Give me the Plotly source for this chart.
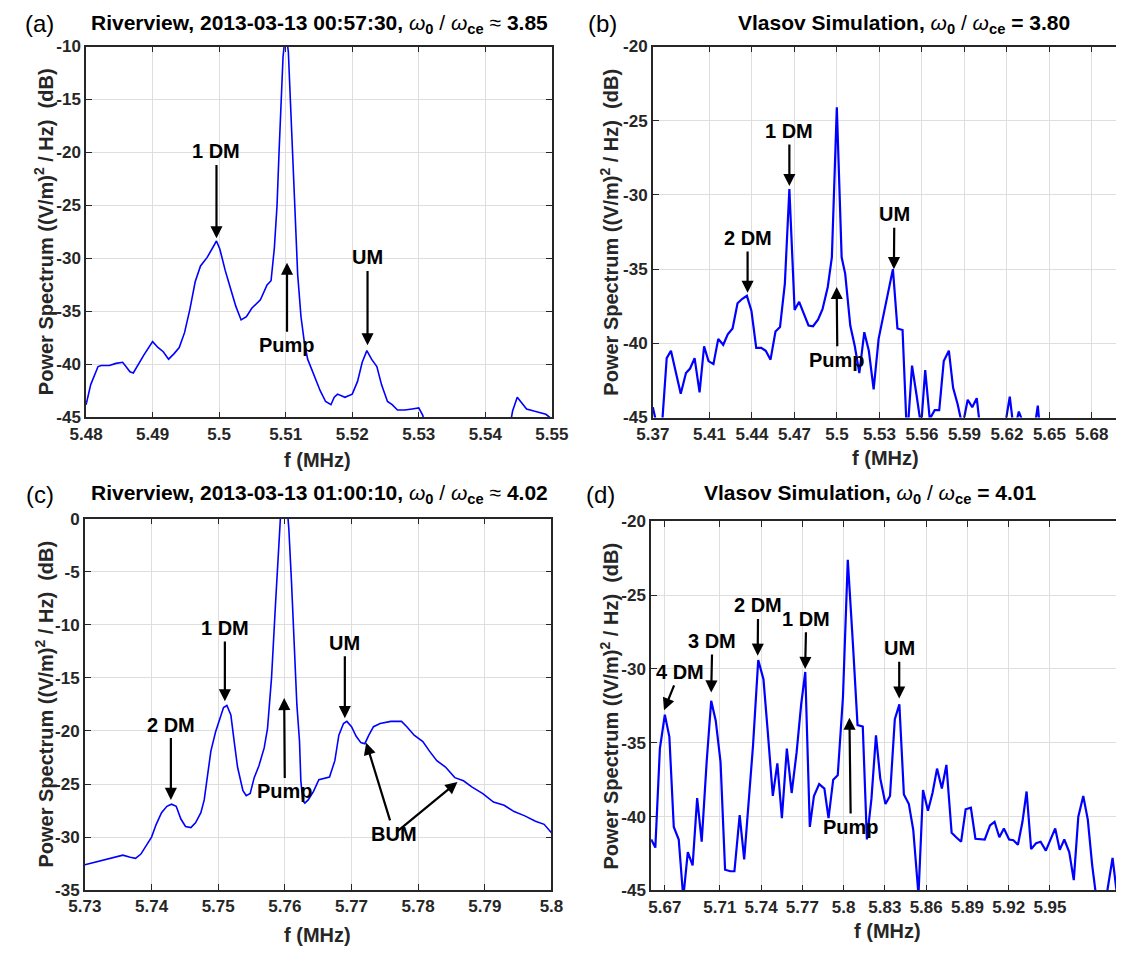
import plotly.graph_objects as go

# ---------------- data ----------------
# (a) Riverview 00:57:30
fa = [5.4800, 5.4807, 5.4818, 5.4823, 5.4835, 5.4845, 5.4855, 5.4866, 5.4871, 5.4879,
      5.4887, 5.4900, 5.4908, 5.4916, 5.4924, 5.4932, 5.4940, 5.4948, 5.4956, 5.4964,
      5.4972, 5.4982, 5.4990, 5.4996, 5.5001, 5.5009, 5.5017, 5.5025, 5.5033, 5.5041,
      5.5049, 5.5062, 5.5072, 5.5078, 5.5083, 5.5087, 5.5090, 5.5093, 5.5096, 5.5100,
      5.5104, 5.5107, 5.5110, 5.5113, 5.5116, 5.5118, 5.5123, 5.5128, 5.5133, 5.5139,
      5.5147, 5.5152, 5.5160, 5.5168, 5.5173, 5.5178, 5.5189, 5.5200, 5.5208, 5.5215,
      5.5222, 5.5229, 5.5237, 5.5244, 5.5253, 5.5260, 5.5268, 5.5279, 5.5290, 5.5300,
      5.5306, 5.5312, 5.5435, 5.5441, 5.5448, 5.5454, 5.5462, 5.5473, 5.5480, 5.5491,
      5.5497]
pa = [-43.8, -41.9, -40.2, -40.1, -40.1, -39.9, -39.8, -40.7, -40.8, -39.9,
      -39.1, -37.85, -38.4, -38.8, -39.5, -39.0, -38.4, -37.0, -34.8, -32.2,
      -30.7, -29.9, -29.0, -28.35, -29.1, -31.1, -32.8, -34.5, -35.8, -35.5,
      -34.7, -33.9, -32.5, -32.1, -29.0, -25.0, -20.0, -15.0, -11.0, -8.5,
      -10.5, -15.0, -20.0, -25.0, -29.5, -31.5, -35.5, -37.9, -39.5, -40.4,
      -41.6, -42.5, -43.5, -43.8, -43.1, -42.8, -43.1, -42.8, -41.6, -39.8,
      -38.7, -39.5, -40.2, -41.9, -43.5, -43.8, -44.3, -44.3, -44.2, -44.1,
      -44.8, -46.5, -46.5, -44.4, -43.1, -43.6, -44.2, -44.4, -44.5, -44.7,
      -45.0]

# (b) Vlasov simulation 3.80
fb = [5.3700, 5.3735, 5.3765, 5.3798, 5.3828, 5.3860, 5.3897, 5.3934, 5.3963, 5.3995,
      5.4030, 5.4062, 5.4093, 5.4128, 5.4162, 5.4197, 5.4229, 5.4263, 5.4298, 5.4332,
      5.4364, 5.4396, 5.4430, 5.4465, 5.4497, 5.4531, 5.4566, 5.4598, 5.4632, 5.4664,
      5.4701, 5.4733, 5.4767, 5.4799, 5.4831, 5.4866, 5.4898, 5.4935, 5.4964, 5.4999,
      5.5033, 5.5058, 5.5094, 5.5126, 5.5158, 5.5193, 5.5225, 5.5259, 5.5294, 5.5328,
      5.5360, 5.5395, 5.5427, 5.5463, 5.5495, 5.5530, 5.5562, 5.5594, 5.5623, 5.5655,
      5.5690, 5.5722, 5.5754, 5.5790, 5.5820, 5.5852, 5.5886, 5.5923, 5.5955, 5.5987,
      5.6020, 5.6170, 5.6220, 5.6250, 5.6284, 5.6320, 5.6390, 5.6418, 5.6440, 5.6970]
pb = [-44.3, -45.8, -45.5, -41.0, -40.5, -41.9, -43.4, -42.0, -41.7, -41.0,
      -43.3, -40.2, -41.2, -41.4, -39.7, -40.1, -39.4, -39.0, -37.3, -37.0,
      -36.8, -37.8, -40.3, -40.3, -40.5, -41.1, -39.2, -38.9, -36.0, -29.6,
      -37.75, -37.2, -38.0, -38.8, -38.85, -38.4, -37.7, -36.2, -34.2, -24.1,
      -34.2, -35.3, -38.8, -40.2, -42.0, -39.25, -40.5, -43.1, -39.7, -38.1,
      -36.5, -35.0, -39.0, -39.1, -46.5, -41.5, -43.5, -45.6, -41.8, -45.1,
      -44.5, -44.5, -41.2, -40.5, -43.0, -44.1, -45.6, -43.8, -44.3, -43.7,
      -46.5, -46.5, -43.6, -46.0, -44.6, -45.5, -46.0, -44.2, -46.5, -46.5]

# (c) Riverview 01:00:10
fc = [5.7300, 5.7320, 5.7336, 5.7357, 5.7368, 5.7376, 5.7384, 5.7392, 5.7400, 5.7407,
      5.7415, 5.7423, 5.7430, 5.7437, 5.7444, 5.7451, 5.7459, 5.7466, 5.7474, 5.7479,
      5.7484, 5.7489, 5.7496, 5.7503, 5.7508, 5.7513, 5.7519, 5.7524, 5.7529, 5.7537,
      5.7542, 5.7548, 5.7554, 5.7561, 5.7569, 5.7574, 5.7580, 5.7586, 5.7591, 5.7596,
      5.7601, 5.7606, 5.7610, 5.7614, 5.7618, 5.7622, 5.7624, 5.7627, 5.7630, 5.7635,
      5.7643, 5.7651, 5.7659, 5.7667, 5.7675, 5.7681, 5.7688, 5.7693, 5.7700, 5.7707,
      5.7714, 5.7720, 5.7726, 5.7733, 5.7743, 5.7759, 5.7775, 5.7783, 5.7794, 5.7807,
      5.7817, 5.7828, 5.7841, 5.7855, 5.7868, 5.7881, 5.7897, 5.7913, 5.7929, 5.7944,
      5.7960, 5.7976, 5.7989, 5.8000]
pc = [-32.6, -32.3, -32.0, -31.7, -31.9, -32.0, -31.6, -30.8, -30.0, -28.8,
      -27.7, -27.1, -26.9, -27.1, -28.3, -29.0, -29.1, -28.65, -27.7, -26.5,
      -24.4, -21.9, -20.1, -18.8, -17.8, -17.6, -18.5, -21.0, -23.4, -25.6,
      -26.1, -25.9, -24.4, -23.3, -21.6, -19.75, -15.0, -8.0, -1.5, 3.0,
      3.0, -1.0, -6.0, -12.0, -17.5, -21.0, -24.7, -26.6, -26.8, -26.5,
      -25.7, -24.6, -24.5, -24.35, -22.8, -20.4, -19.3, -19.1, -19.6, -20.5,
      -21.1, -21.2, -20.4, -19.6, -19.3, -19.1, -19.1, -19.6, -20.4, -21.0,
      -21.9, -22.8, -23.4, -24.4, -24.7, -25.3, -25.9, -26.7, -27.0, -27.6,
      -28.0, -28.5, -28.8, -29.6]

# (d) Vlasov simulation 4.01
fd = [5.6601, 5.6631, 5.6664, 5.6700, 5.6733, 5.6765, 5.6801, 5.6834, 5.6867, 5.6902,
      5.6935, 5.6968, 5.7004, 5.7037, 5.7070, 5.7105, 5.7138, 5.7176, 5.7206, 5.7244,
      5.7277, 5.7308, 5.7341, 5.7379, 5.7417, 5.7447, 5.7485, 5.7518, 5.7551, 5.7587,
      5.7622, 5.7658, 5.7691, 5.7721, 5.7754, 5.7784, 5.7822, 5.7860, 5.7890, 5.7924,
      5.7957, 5.7995, 5.8030, 5.8068, 5.8101, 5.8139, 5.8169, 5.8202, 5.8235, 5.8266,
      5.8304, 5.8337, 5.8372, 5.8405, 5.8438, 5.8474, 5.8506, 5.8544, 5.8577, 5.8613,
      5.8646, 5.8679, 5.8714, 5.8747, 5.8785, 5.8818, 5.8854, 5.8887, 5.8925, 5.8958,
      5.8993, 5.9026, 5.9064, 5.9097, 5.9132, 5.9165, 5.9203, 5.9234, 5.9267, 5.9300,
      5.9330, 5.9363, 5.9399, 5.9432, 5.9470, 5.9503, 5.9538, 5.9571, 5.9604, 5.9640,
      5.9673, 5.9706, 5.9742, 5.9775, 5.9807, 5.9837, 5.9900, 5.9955, 5.9990]
pd_ = [-41.55, -42.1, -35.4, -33.1, -34.6, -40.7, -41.55, -45.5, -42.4, -43.3,
       -38.75, -41.7, -36.3, -32.15, -33.5, -36.3, -43.6, -43.7, -43.7, -39.9,
       -42.9, -39.15, -35.2, -29.4, -30.7, -34.1, -38.6, -36.4, -40.1, -35.4,
       -38.4, -35.65, -32.4, -30.2, -40.7, -38.6, -37.8, -38.1, -40.1, -37.5,
       -37.2, -31.9, -22.6, -28.4, -33.8, -33.9, -41.55, -38.8, -34.5, -37.4,
       -39.15, -38.6, -33.4, -32.4, -38.5, -39.15, -40.9, -45.3, -38.2, -39.6,
       -38.4, -36.75, -38.1, -36.5, -41.1, -41.4, -41.7, -39.5, -39.4, -41.5,
       -41.5, -41.55, -40.6, -40.35, -41.4, -40.8, -41.55, -41.6, -41.9, -40.35,
       -38.3, -42.2, -41.8, -41.7, -42.3, -41.55, -40.8, -42.25, -41.55, -42.4,
       -44.3, -40.0, -38.6, -40.2, -43.3, -45.5, -46.0, -42.8, -45.5]

# tick labels
xa_ticks = [5.48, 5.49, 5.50, 5.51, 5.52, 5.53, 5.54, 5.55]
xa_text = ["5.48", "5.49", "5.5", "5.51", "5.52", "5.53", "5.54", "5.55"]
xb_ticks = [5.37, 5.41, 5.44, 5.47, 5.50, 5.53, 5.56, 5.59, 5.62, 5.65, 5.68]
xb_text = ["5.37", "5.41", "5.44", "5.47", "5.5", "5.53", "5.56", "5.59", "5.62", "5.65", "5.68"]
xc_ticks = [5.73, 5.74, 5.75, 5.76, 5.77, 5.78, 5.79, 5.80]
xc_text = ["5.73", "5.74", "5.75", "5.76", "5.77", "5.78", "5.79", "5.8"]
xd_ticks = [5.67, 5.71, 5.74, 5.77, 5.80, 5.83, 5.86, 5.89, 5.92, 5.95]
xd_text = ["5.67", "5.71", "5.74", "5.77", "5.8", "5.83", "5.86", "5.89", "5.92", "5.95"]
ya_ticks = [-45, -40, -35, -30, -25, -20, -15, -10]
yb_ticks = [-45, -40, -35, -30, -25, -20]
yc_ticks = [-35, -30, -25, -20, -15, -10, -5, 0]
yd_ticks = [-45, -40, -35, -30, -25, -20]

titles = [
    "<b>Riverview, 2013-03-13 00:57:30, </b><i>ω</i><sub><b>0</b></sub> / <i>ω</i><sub><b>ce</b></sub> ≈ <b>3.85</b>",
    "<b>Vlasov Simulation, </b><i>ω</i><sub><b>0</b></sub> / <i>ω</i><sub><b>ce</b></sub><b> = 3.80</b>",
    "<b>Riverview, 2013-03-13 01:00:10, </b><i>ω</i><sub><b>0</b></sub> / <i>ω</i><sub><b>ce</b></sub> ≈ <b>4.02</b>",
    "<b>Vlasov Simulation, </b><i>ω</i><sub><b>0</b></sub> / <i>ω</i><sub><b>ce</b></sub><b> = 4.01</b>",
]
panel_letters = ["(a)", "(b)", "(c)", "(d)"]
ytitle = "<b>Power Spectrum ((V/m)<sup>2</sup> / Hz)  (dB)</b>"
xtitle = "<b>f (MHz)</b>"

# mode labels: (panel, text, text_x, text_y, arrow tips [(tip_x, tip_y)])
labels = [
    (0, "1 DM", 5.4996, -19.9, [(5.4996, -28.1)]),
    (0, "Pump", 5.5102, -38.2, [(5.5102, -30.4)]),
    (0, "UM", 5.5223, -29.9, [(5.5223, -38.2)]),
    (1, "1 DM", 5.4664, -25.7, [(5.4664, -29.4)]),
    (1, "2 DM", 5.4369, -32.9, [(5.4369, -36.6)]),
    (1, "UM", 5.5405, -31.3, [(5.5402, -35.0)]),
    (1, "Pump", 5.5003, -41.1, [(5.4998, -36.2)]),
    (2, "1 DM", 5.7510, -10.3, [(5.7510, -17.2)]),
    (2, "UM", 5.7690, -11.7, [(5.7690, -18.8)]),
    (2, "2 DM", 5.7429, -19.4, [(5.7429, -26.5)]),
    (2, "Pump", 5.7600, -25.7, [(5.7599, -16.9)]),
    (2, "BUM", 5.7764, -29.7, [(5.7722, -21.1), (5.7859, -24.8)]),
    (3, "4 DM", 5.6807, -30.2, [(5.6694, -32.8)]),
    (3, "3 DM", 5.7045, -28.1, [(5.7037, -31.6)]),
    (3, "2 DM", 5.7378, -25.7, [(5.7375, -29.1)]),
    (3, "1 DM", 5.7728, -26.6, [(5.7720, -30.0)]),
    (3, "UM", 5.8404, -28.6, [(5.8404, -32.0)]),
    (3, "Pump", 5.8052, -40.7, [(5.8042, -33.3)]),
]

# ---------------- layout geometry (pixels) ----------------
W, H = 1133, 957
boxes = [  # left, right, top, bottom in px
    (71.2, 551.4, 38.3, 416.7),
    (655.5, 1133.0, 38.3, 416.8),
    (70.0, 551.0, 520.0, 899.0),
    (653.7, 1133.0, 522.7, 899.3),
]
xranges = [[5.48, 5.55], [5.37, 5.697], [5.73, 5.80], [5.66, 5.998]]
yranges = [[-45, -10], [-45, -20], [-35, 0], [-45, -20]]
xticks = [(xa_ticks, xa_text), (xb_ticks, xb_text), (xc_ticks, xc_text), (xd_ticks, xd_text)]
yticks = [ya_ticks, yb_ticks, yc_ticks, yd_ticks]
series = [(fa, pa, 1.6), (fb, pb, 2.2), (fc, pc, 1.6), (fd, pd_, 2.2)]
title_pos = [(312, 15), (914, 15), (312, 495), (879, 495)]
letter_pos = [(23, 15), (604, 15), (24, 495), (602, 495)]
ytitle_pos = [(28, 227.5), (611, 227.5), (28, 709.5), (611, 711)]
xtitle_pos = [(310, 460), (895, 458), (310, 945), (897, 941)]

FONT = "Liberation Sans"
AX = "#262626"
GRID = "#dedede"

fig = go.Figure()
annotations = []
for i in range(4):
    l, r, t, b = boxes[i]
    sx = "" if i == 0 else str(i + 1)
    xa = "xaxis" + sx
    ya = "yaxis" + sx
    f, p, lw = series[i]
    fig.add_trace(go.Scatter(x=f, y=p, mode="lines", line=dict(color="#0000ff", width=lw),
                             xaxis="x" + sx, yaxis="y" + sx, showlegend=False, hoverinfo="skip"))
    mirror = True if i in (0, 2) else False
    fig.update_layout(**{
        xa: dict(domain=[l / W, r / W], range=xranges[i], anchor="y" + sx,
                 tickvals=xticks[i][0], ticktext=xticks[i][1],
                 showgrid=True, gridcolor=GRID, gridwidth=1, zeroline=False,
                 showline=True, linecolor=AX, linewidth=1.6, mirror="ticks",
                 ticks="inside", ticklen=6, tickwidth=1.4, tickcolor=AX,
                 tickfont=dict(family=FONT, size=17, color="#262626", weight="bold")),
        ya: dict(domain=[1 - b / H, 1 - t / H], range=yranges[i], anchor="x" + sx,
                 tickvals=yticks[i], ticktext=[str(v) for v in yticks[i]],
                 showgrid=True, gridcolor=GRID, gridwidth=1, zeroline=False,
                 showline=True, linecolor=AX, linewidth=1.6,
                 mirror="ticks" if mirror else False,
                 ticks="inside", ticklen=6, tickwidth=1.4, tickcolor=AX,
                 tickfont=dict(family=FONT, size=17, color="#262626", weight="bold")),
    })
    annotations.append(dict(text=titles[i], x=title_pos[i][0] / W, y=1 - title_pos[i][1] / H,
                            xref="paper", yref="paper", showarrow=False, xanchor="center", yanchor="middle",
                            font=dict(family=FONT, size=21, color="black")))
    annotations.append(dict(text=panel_letters[i], x=letter_pos[i][0] / W, y=1 - letter_pos[i][1] / H,
                            xref="paper", yref="paper", showarrow=False, xanchor="center", yanchor="middle",
                            font=dict(family=FONT, size=24, color="black")))
    annotations.append(dict(text=ytitle, x=ytitle_pos[i][0] / W, y=1 - ytitle_pos[i][1] / H,
                            xref="paper", yref="paper", showarrow=False, textangle=-90,
                            xanchor="center", yanchor="middle",
                            font=dict(family=FONT, size=20, color="#262626")))
    annotations.append(dict(text=xtitle, x=xtitle_pos[i][0] / W, y=1 - xtitle_pos[i][1] / H,
                            xref="paper", yref="paper", showarrow=False,
                            xanchor="center", yanchor="middle",
                            font=dict(family=FONT, size=20, color="#262626")))

# label text sits at the arrow tail; plotly draws the arrow from the text box edge to the tip
for (pi, txt, tx, ty, tips) in labels:
    sx = "" if pi == 0 else str(pi + 1)
    for k, (hx, hy) in enumerate(tips):
        annotations.append(dict(text=("<b>" + txt + "</b>") if k == 0 else "",
                                x=hx, y=hy, ax=tx, ay=ty,
                                xref="x" + sx, yref="y" + sx, axref="x" + sx, ayref="y" + sx,
                                showarrow=True, arrowhead=2, arrowsize=1.1, arrowwidth=2.2,
                                arrowcolor="black", borderpad=2,
                                font=dict(family=FONT, size=20, color="black")))

fig.update_layout(width=W, height=H, margin=dict(l=0, r=0, t=0, b=0),
                  paper_bgcolor="white", plot_bgcolor="white",
                  annotations=annotations, showlegend=False)

fig.write_html("out.html")
